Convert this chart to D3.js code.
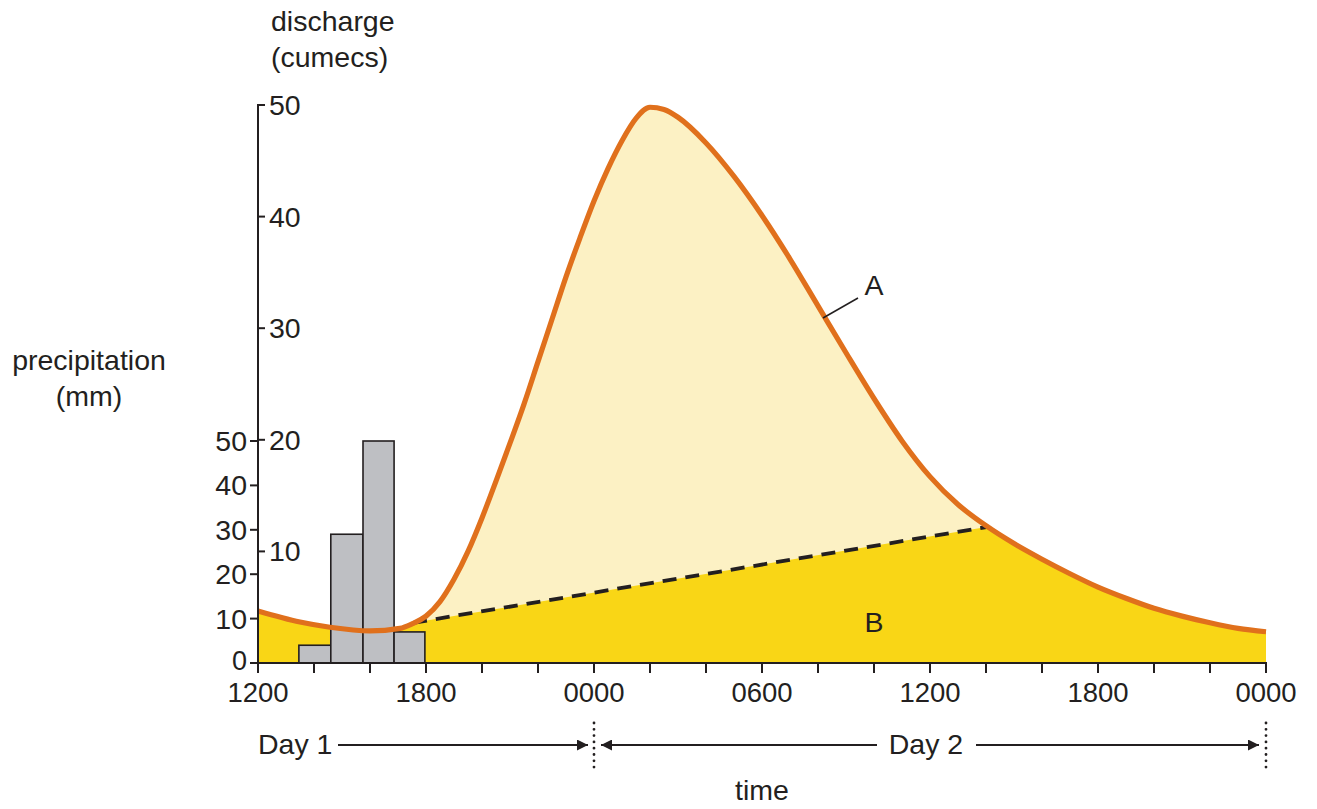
<!DOCTYPE html>
<html><head><meta charset="utf-8">
<script src="https://cdn.jsdelivr.net/npm/d3@7"></script>
<style>body{margin:0;background:#fff}svg{display:block}text{font-family:"Liberation Sans",Arial,Helvetica,sans-serif;fill:#231f20}</style>
</head><body>
<svg id="c" width="1317" height="809"></svg>
<script>
// hours after 1200 on Day 1
const hours = [0,1.5,2.57,4,5.07,5.5,6,6.5,7,7.5,8,8.5,9,9.5,10,10.5,11,11.5,12,12.5,13,13.5,14,14.5,15,16,17,18,19,20,21,22,23,24,25,26,27,28,29,30,31,32,33,34,35,36];
const discharge = [4.66,3.67,3.2,2.87,3.1,3.5,4.2,5.5,7.5,10.0,13.0,16.3,19.7,23.2,27.0,30.8,34.6,38.1,41.4,44.3,46.8,48.8,49.8,49.6,48.9,46.6,43.6,40.1,36.2,32.0,27.8,23.7,19.9,16.7,14.2,12.3,10.7,9.3,8.0,6.8,5.8,4.9,4.2,3.6,3.1,2.8];
const baseflowHours = [5.54, 26.07];
const baseflowValues = [3.6, 12.2];
const precipStart = [1.46, 2.6, 3.75, 4.86];
const precipEnd = [2.6, 3.75, 4.86, 5.96];
const precipValues = [4, 29, 50, 7];
const xTickHours = [0,6,12,18,24,30,36];
const xTickLabels = ["1200","1800","0000","0600","1200","1800","0000"];
const dischargeTicks = [10,20,30,40,50];
const precipTicks = [0,10,20,30,40,50];

const FS = 28.5;
const svg = d3.select("#c");
const x = d3.scaleLinear().domain([0,36]).range([258,1266]);
const yQ = d3.scaleLinear().domain([0,50]).range([663,105]);
const yP = d3.scaleLinear().domain([0,50]).range([663,441]);

const pts = hours.map((h,i)=>({h, v:discharge[i]}));
const curve = d3.curveMonotoneX;
const area = d3.area().x(d=>x(d.h)).y0(yQ(0)).y1(d=>yQ(d.v)).curve(curve);
const line = d3.line().x(d=>x(d.h)).y(d=>yQ(d.v)).curve(curve);

const defs = svg.append("defs");
const bx0 = x(baseflowHours[0]), by0 = yQ(baseflowValues[0]);
const bx1 = x(baseflowHours[1]), by1 = yQ(baseflowValues[1]);
defs.append("clipPath").attr("id","below").append("path")
  .attr("d", `M${x(0)-5},0 L${bx0},0 L${bx0},${by0} L${bx1},${by1} L${bx1},0 L${x(36)+5},0 L${x(36)+5},${yQ(0)} L${x(0)-5},${yQ(0)} Z`);

svg.append("path").attr("d", area(pts)).attr("fill","#fcf1c4");
svg.append("path").attr("d", area(pts)).attr("fill","#f9d616").attr("clip-path","url(#below)");

// precipitation bars
svg.selectAll("rect.bar").data(precipValues).enter().append("rect")
  .attr("x",(d,i)=>x(precipStart[i]))
  .attr("width",(d,i)=>x(precipEnd[i])-x(precipStart[i]))
  .attr("y",d=>yP(d)).attr("height",d=>yP(0)-yP(d))
  .attr("fill","#bebfc3").attr("stroke","#231f20").attr("stroke-width",1.6);

// baseflow dashed
svg.append("line").attr("x1",bx0).attr("y1",by0).attr("x2",bx1).attr("y2",by1)
  .attr("stroke","#231f20").attr("stroke-width",3.8).attr("stroke-dasharray","14,9");

// hydrograph
svg.append("path").attr("d", line(pts)).attr("fill","none").attr("stroke","#e0701c").attr("stroke-width",5.2);

// axes
const ax = svg.append("g").attr("stroke","#231f20").attr("stroke-width",2);
ax.append("line").attr("x1",x(0)).attr("x2",x(0)).attr("y1",yQ(50)-1).attr("y2",yQ(0));
ax.append("line").attr("x1",x(0)-1).attr("x2",x(36)+1).attr("y1",yQ(0)).attr("y2",yQ(0));
d3.range(0,37,2).forEach(h=>{
  ax.append("line").attr("x1",x(h)).attr("x2",x(h)).attr("y1",yQ(0)).attr("y2",yQ(0)+10);
});
dischargeTicks.forEach(v=>{
  ax.append("line").attr("x1",x(0)).attr("x2",x(0)+7).attr("y1",yQ(v)).attr("y2",yQ(v));
  svg.append("text").attr("x",x(0)+11).attr("y",yQ(v)+10).attr("font-size",FS).text(v);
});
precipTicks.forEach(v=>{
  ax.append("line").attr("x1",x(0)-8).attr("x2",x(0)).attr("y1",yP(v)).attr("y2",yP(v));
  svg.append("text").attr("x",x(0)-11).attr("y",yP(v)+(v===0?7:10)).attr("font-size",v===0?27:FS).attr("text-anchor","end").text(v);
});
xTickHours.forEach((h,i)=>{
  svg.append("text").attr("x",x(h)).attr("y",702).attr("font-size",27.5).attr("text-anchor","middle").text(xTickLabels[i]);
});

// axis titles
svg.append("text").attr("x",271).attr("y",31).attr("font-size",FS).text("discharge");
svg.append("text").attr("x",271).attr("y",67).attr("font-size",FS).text("(cumecs)");
svg.append("text").attr("x",89).attr("y",370).attr("font-size",FS).attr("text-anchor","middle").text("precipitation");
svg.append("text").attr("x",89).attr("y",406).attr("font-size",FS).attr("text-anchor","middle").text("(mm)");
svg.append("text").attr("x",762).attr("y",800).attr("font-size",FS).attr("text-anchor","middle").text("time");

// labels A, B
svg.append("line").attr("x1",823).attr("y1",318).attr("x2",858).attr("y2",298).attr("stroke","#231f20").attr("stroke-width",1.5);
svg.append("text").attr("x",874).attr("y",295).attr("font-size",FS).attr("text-anchor","middle").text("A");
svg.append("text").attr("x",874).attr("y",632).attr("font-size",FS).attr("text-anchor","middle").text("B");

// Day arrows
defs.append("marker").attr("id","ah").attr("viewBox","0 0 10 10").attr("refX",10).attr("refY",5)
  .attr("markerWidth",11).attr("markerHeight",11).attr("markerUnits","userSpaceOnUse").attr("orient","auto-start-reverse")
  .append("path").attr("d","M0,0 L10,5 L0,10 Z").attr("fill","#231f20");
const dy = 745;
svg.append("text").attr("x",258).attr("y",754).attr("font-size",FS).text("Day 1");
svg.append("line").attr("x1",338).attr("x2",x(12)-6).attr("y1",dy).attr("y2",dy).attr("stroke","#231f20").attr("stroke-width",2).attr("marker-end","url(#ah)");
svg.append("line").attr("x1",x(12)+7).attr("x2",877).attr("y1",dy).attr("y2",dy).attr("stroke","#231f20").attr("stroke-width",2).attr("marker-start","url(#ah)");
svg.append("text").attr("x",926).attr("y",754).attr("font-size",FS).attr("text-anchor","middle").text("Day 2");
svg.append("line").attr("x1",976).attr("x2",x(36)-7).attr("y1",dy).attr("y2",dy).attr("stroke","#231f20").attr("stroke-width",2).attr("marker-end","url(#ah)");
[12,36].forEach(h=>{
  svg.append("line").attr("x1",x(h)).attr("x2",x(h)).attr("y1",723).attr("y2",768)
    .attr("stroke","#231f20").attr("stroke-width",2.8).attr("stroke-dasharray","0,6.3").attr("stroke-linecap","round");
});
</script>
</body></html>
